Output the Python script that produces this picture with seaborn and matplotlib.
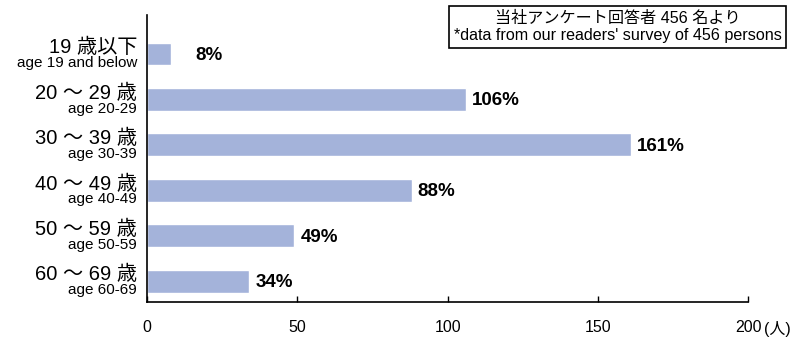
import matplotlib
matplotlib.use("Agg")
import matplotlib.pyplot as plt
import matplotlib.transforms as mtransforms
import pandas as pd
import seaborn as sns

# chart data
labels_jp = ["19 歳以下", "20 ～ 29 歳", "30 ～ 39 歳", "40 ～ 49 歳", "50 ～ 59 歳", "60 ～ 69 歳"]
labels_en = ["age 19 and below", "age 20-29", "age 30-39", "age 40-49", "age 50-59", "age 60-69"]
counts = [8, 106, 161, 88, 49, 34]
value_text = ["8%", "106%", "161%", "88%", "49%", "34%"]
x_ticks = [0, 50, 100, 150, 200]

sns.set_style("white")
plt.rcParams["font.family"] = ["Liberation Sans", "Noto Sans CJK JP", "DejaVu Sans"]
plt.rcParams["text.color"] = "black"
plt.rcParams["xtick.color"] = "black"
plt.rcParams["xtick.labelcolor"] = "black"

df = pd.DataFrame({"group": labels_en, "count": counts})

fig = plt.figure(figsize=(7.95, 3.39), dpi=100)
ax = fig.add_axes([0.185, 0.109, 0.756, 0.847])

sns.barplot(data=df, x="count", y="group", orient="h", color="#a4b3da",
            saturation=1, width=0.5, ax=ax)

ax.set_xlim(0, 200)
ax.set_ylim(5.46, -0.86)
ax.set_xticks(x_ticks)
ax.set_xticklabels([str(t) for t in x_ticks], fontsize=11.5)
ax.set_yticks([])
ax.set_xlabel("")
ax.set_ylabel("")
ax.tick_params(axis="x", direction="in", length=4, width=1, pad=13, bottom=True)

for s in ["top", "right"]:
    ax.spines[s].set_visible(False)
for s in ["left", "bottom"]:
    ax.spines[s].set_color("black")
    ax.spines[s].set_linewidth(1.2)

# two-line category labels on the left
trans = mtransforms.blended_transform_factory(ax.transAxes, ax.transData)
off = mtransforms.ScaledTranslation(-10 / 100, 0, fig.dpi_scale_trans)
for i, (jp, en) in enumerate(zip(labels_jp, labels_en)):
    ax.text(0, i - 0.14, jp, transform=trans + off, ha="right", va="center", fontsize=14.5)
    ax.text(0, i + 0.2, en, transform=trans + off, ha="right", va="center", fontsize=11)

# value labels
for i, (v, t) in enumerate(zip(counts, value_text)):
    ax.text(max(v, 14) + 2, i + 0.03, t, ha="left", va="center", fontsize=13.5, fontweight="bold")

# unit label
fig.text(0.961, 0.03, "(人)", ha="left", va="center", fontsize=11.5)

# source box
fig.text(0.777, 0.921, "当社アンケート回答者 456 名より\n*data from our readers' survey of 456 persons",
         ha="center", va="center", fontsize=11.6, linespacing=1.15,
         bbox=dict(boxstyle="square,pad=0.3", facecolor="white", edgecolor="black", linewidth=1.2))

fig.savefig("out.png", dpi=100)
